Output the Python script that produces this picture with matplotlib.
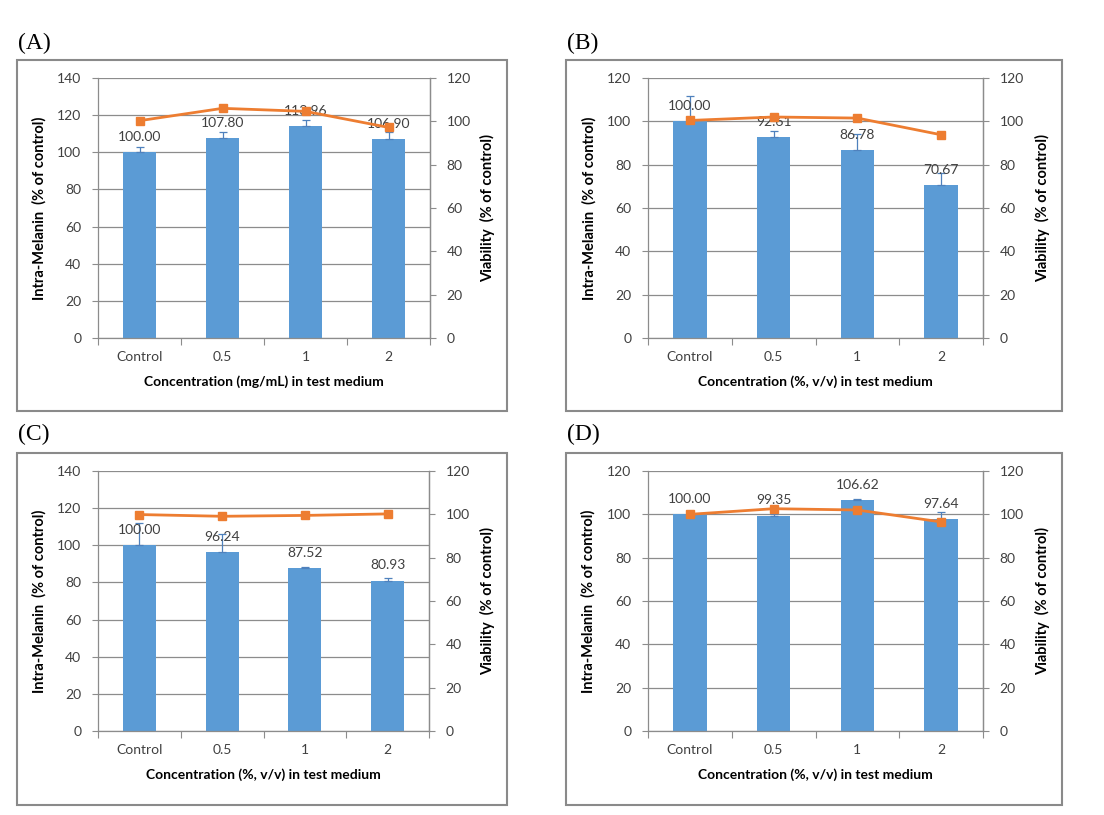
import matplotlib
matplotlib.use("Agg")
import matplotlib.pyplot as plt
from matplotlib.patches import Rectangle
import numpy as np

plt.rcParams['font.family'] = ['Lato', 'DejaVu Sans']

categories = ["Control", "0.5", "1", "2"]

melanin_A = [100.00, 107.80, 113.96, 106.90]
melanin_err_A = [2.8, 2.9, 3.2, 4.0]
viability_A = [100.3, 106.0, 104.6, 97.2]

melanin_B = [100.00, 92.61, 86.78, 70.67]
melanin_err_B = [11.5, 3.0, 7.4, 5.5]
viability_B = [100.4, 102.0, 101.5, 93.8]

melanin_C = [100.00, 96.24, 87.52, 80.93]
melanin_err_C = [12.0, 10.0, 0.9, 1.5]
viability_C = [99.9, 99.1, 99.5, 100.2]

melanin_D = [100.00, 99.35, 106.62, 97.64]
melanin_err_D = [0.4, 0.8, 0.5, 3.4]
viability_D = [100.0, 102.6, 102.0, 96.5]

panel_labels = ["(A)", "(B)", "(C)", "(D)"]
xlabels = ["Concentration (mg/mL) in test medium",
           "Concentration (%, v/v) in test medium",
           "Concentration (%, v/v) in test medium",
           "Concentration (%, v/v) in test medium"]
left_max = [140, 120, 140, 120]
right_max = [120, 120, 120, 120]

W, H = 1104, 815
fig = plt.figure(figsize=(W / 100, H / 100), dpi=100)

BAR = '#5B9BD5'
LINE = '#ED7D31'
GRID = '#8C8C8C'
TXT = '#404040'

layouts = [
    dict(ax=(98, 430, 78, 338), frame=(17, 60, 507, 411), lab=(18, 43), yl=47, yr=480),
    dict(ax=(648, 983, 78, 338), frame=(566, 60, 1062, 411), lab=(567, 43), yl=597, yr=1035),
    dict(ax=(98, 429, 471, 731), frame=(17, 453, 507, 805), lab=(18, 434), yl=47, yr=480),
    dict(ax=(648, 983, 471, 731), frame=(566, 453, 1062, 805), lab=(567, 434), yl=596, yr=1035),
]

data = [
    (melanin_A, melanin_err_A, viability_A),
    (melanin_B, melanin_err_B, viability_B),
    (melanin_C, melanin_err_C, viability_C),
    (melanin_D, melanin_err_D, viability_D),
]

for i, lay in enumerate(layouts):
    mel, err, via = data[i]
    l, r, t, b = lay['ax']
    fl, ft, fr, fb = lay['frame']
    fig.patches.append(Rectangle((fl / W, 1 - fb / H), (fr - fl) / W, (fb - ft) / H,
                                 transform=fig.transFigure, fill=False,
                                 edgecolor='#8A8A8A', linewidth=1.5, zorder=0))
    fig.text(lay['lab'][0] / W, 1 - lay['lab'][1] / H, panel_labels[i],
             family='Liberation Serif', fontsize=17, ha='left', va='center', color='black')

    ax = fig.add_axes([l / W, 1 - b / H, (r - l) / W, (b - t) / H])
    x = np.arange(len(categories))
    ax.bar(x, mel, width=0.4, color=BAR, zorder=2)
    ax.errorbar(x, mel, yerr=[np.zeros(len(err)), err], fmt='none', ecolor='#4F81BD',
                elinewidth=0.9, capsize=3, capthick=0.9, zorder=3)
    for xi, v in zip(x, mel):
        ax.annotate(f"{v:.2f}", (xi, v), xytext=(0, 11), textcoords='offset points',
                    ha='center', va='center', fontsize=10, color=TXT, zorder=4)
    ax.set_xlim(-0.5, len(categories) - 0.5)
    ax.set_ylim(0, left_max[i])
    ax.set_yticks(np.arange(0, left_max[i] + 1, 20))
    ax.yaxis.grid(True, color=GRID, linewidth=0.9, zorder=0)
    ax.set_axisbelow(True)
    ax.set_xticks(np.arange(-0.5, len(categories), 1.0))
    ax.set_xticklabels([])
    ax.set_xticks(x, minor=True)
    ax.set_xticklabels(categories, minor=True)
    ax.tick_params(axis='x', which='major', length=5, color=GRID, direction='out')
    ax.tick_params(axis='x', which='minor', length=0, pad=9, labelsize=10, labelcolor=TXT)
    ax.tick_params(axis='y', length=4, color=GRID, pad=8, labelsize=10, labelcolor=TXT)
    ax.spines['top'].set_visible(False)
    for s in ['left', 'bottom', 'right']:
        ax.spines[s].set_color(GRID)
        ax.spines[s].set_linewidth(0.9)
    ax.set_ylabel("Intra-Melanin  (% of control)", fontsize=10.5, fontweight='bold', color='black')
    ax.yaxis.set_label_coords((lay['yl'] - l) / (r - l), 0.5)
    ax.set_xlabel(xlabels[i], fontsize=10, fontweight='bold', color='black')
    ax.xaxis.set_label_coords(0.5, -0.145)

    ax2 = ax.twinx()
    ax2.plot(x, via, color=LINE, linewidth=2, marker='s', markersize=5.5, zorder=5)
    ax2.set_ylim(0, right_max[i])
    ax2.set_yticks(np.arange(0, right_max[i] + 1, 20))
    ax2.tick_params(axis='y', length=4, color=GRID, pad=8, labelsize=10, labelcolor=TXT)
    for s in ['top', 'left', 'bottom']:
        ax2.spines[s].set_visible(False)
    ax2.spines['right'].set_color(GRID)
    ax2.spines['right'].set_linewidth(0.9)
    ax2.set_ylabel("Viability  (% of control)", fontsize=10.5, fontweight='bold', color='black')
    ax2.yaxis.set_label_coords((lay['yr'] - l) / (r - l), 0.5)

fig.savefig("out.png", dpi=100)
